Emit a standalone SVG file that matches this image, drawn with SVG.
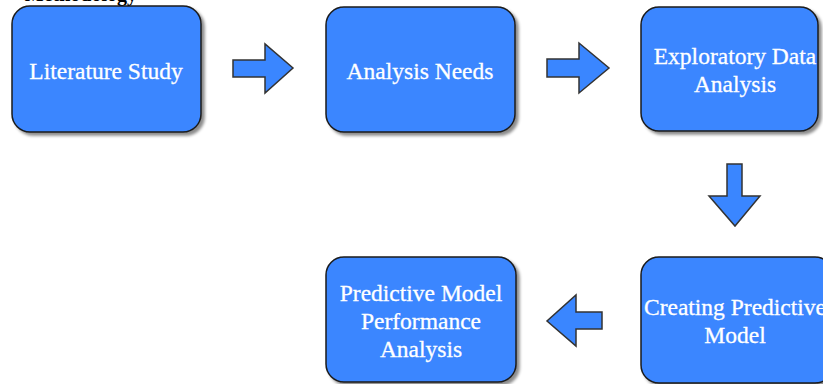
<svg xmlns="http://www.w3.org/2000/svg" width="823" height="384" viewBox="0 0 823 384">
<defs>
<filter id="sh" x="-10%" y="-10%" width="130%" height="130%">
<feDropShadow dx="3" dy="3" stdDeviation="1.8" flood-color="#000" flood-opacity="0.45"/>
</filter>
</defs>
<style>
.box{fill:#3a86ff;stroke:#1a1a1a;stroke-width:1.5;filter:url(#sh)}
.lbl{font-family:"Liberation Serif","Times New Roman",serif;font-size:23.5px;fill:#fff;stroke:#fff;stroke-width:0.3;text-anchor:middle}
.arr{fill:#3a86ff;stroke:#333;stroke-width:1.5;stroke-linejoin:miter}
.title{font-family:"Liberation Serif","Times New Roman",serif;font-size:20px;font-weight:bold;fill:#000;text-anchor:end}
</style>
<rect width="823" height="384" fill="#fff"/>
<text class="title" x="137" y="1">Methodology</text>
<g id="n1">
<rect class="box" x="12" y="6" width="189" height="126" rx="18"/>
<text class="lbl" x="106" y="79">Literature Study</text>
</g>
<g id="n2">
<rect class="box" x="326" y="7" width="189" height="125" rx="18"/>
<text class="lbl" x="420" y="79">Analysis Needs</text>
</g>
<g id="n3">
<rect class="box" x="641" y="7" width="177" height="124" rx="18"/>
<text class="lbl" x="735" y="64">Exploratory Data</text>
<text class="lbl" x="735" y="92">Analysis</text>
</g>
<g id="n4">
<rect class="box" x="641" y="257" width="192" height="126" rx="18"/>
<text class="lbl" x="735" y="315">Creating Predictive</text>
<text class="lbl" x="735" y="343">Model</text>
</g>
<g id="n5">
<rect class="box" x="326" y="257" width="190" height="125" rx="18"/>
<text class="lbl" x="421" y="301">Predictive Model</text>
<text class="lbl" x="421" y="329">Performance</text>
<text class="lbl" x="421" y="357">Analysis</text>
</g>
<g id="connectors">
<polygon class="arr" points="233,60 265,60 265,44 293,68 265,93 265,77 233,77"/>
<polygon class="arr" points="547,59 579,59 579,43 609,68 579,93 579,77 547,77"/>
<polygon class="arr" points="727,164 742,164 742,196 760,196 735,226 709,196 727,196"/>
<polygon class="arr" points="602,312 576,312 576,295 547,321 576,346 576,329 602,329"/>
</g>
</svg>
